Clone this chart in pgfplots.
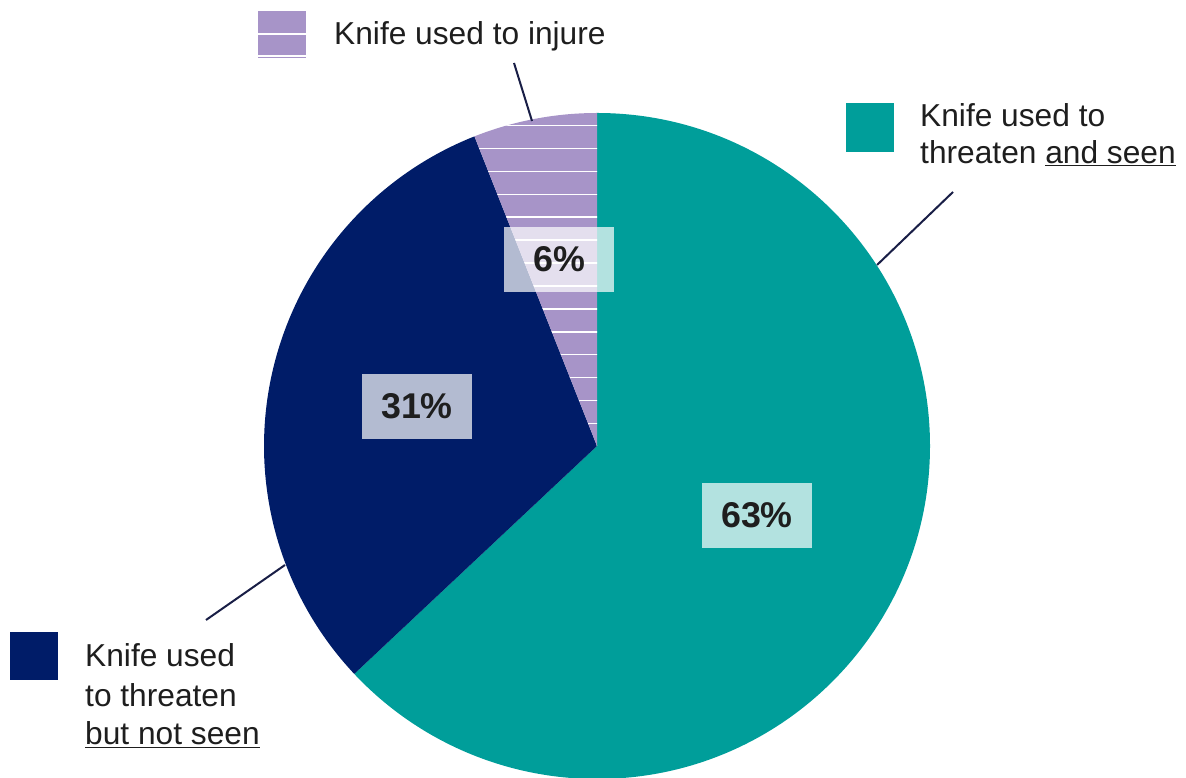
\documentclass[border=0pt]{standalone}
\usepackage{pgfplots}
\pgfplotsset{compat=1.18}
\usepackage{fontspec}
\setmainfont{Liberation Sans}

\definecolor{kTeal}{RGB}{0,158,154}
\definecolor{kNavy}{RGB}{0,28,104}
\definecolor{kPurple}{RGB}{167,148,200}
\definecolor{kText}{RGB}{30,30,30}
\definecolor{kLead}{RGB}{25,30,70}

% === Data (percent) ===
\def\valSeen{63}   % knife used to threaten and seen
\def\valNot{31}    % knife used to threaten but not seen
\def\valInj{6}     % knife used to injure

% pie in pixel units: centre and radius
\def\cx{597}\def\cy{332}\def\R{333}

% slice angles, clockwise from 12 o'clock
\pgfmathsetmacro{\aA}{90}
\pgfmathsetmacro{\aB}{\aA-3.6*\valSeen}
\pgfmathsetmacro{\aC}{\aB-3.6*\valNot}
\pgfmathsetmacro{\aD}{\aC-3.6*\valInj}

\newcommand{\leg}{\fontsize{31.7}{38}\selectfont}
\newcommand{\pct}{\fontsize{35.8}{40}\selectfont\bfseries}

\begin{document}
\begin{tikzpicture}
\begin{axis}[
  x=1pt, y=1pt,
  xmin=0, xmax=1186,
  ymin=0, ymax=778,
  hide axis,
  clip=false,
]
\coordinate (bl) at (axis cs:0,0);
\coordinate (tr) at (axis cs:1186,778);

% === Slices ===
\fill[kTeal] (axis cs:\cx,\cy) -- (axis cs:{\cx+\R*cos(\aA)},{\cy+\R*sin(\aA)})
  arc[start angle=\aA, end angle=\aB, radius=\R] -- cycle;
\fill[kNavy] (axis cs:\cx,\cy) -- (axis cs:{\cx+\R*cos(\aB)},{\cy+\R*sin(\aB)})
  arc[start angle=\aB, end angle=\aC, radius=\R] -- cycle;
\fill[kPurple] (axis cs:\cx,\cy) -- (axis cs:{\cx+\R*cos(\aC)},{\cy+\R*sin(\aC)})
  arc[start angle=\aC, end angle=\aD, radius=\R] -- cycle;

% stripes on the injure slice
\begin{scope}
\clip (axis cs:\cx,\cy) -- (axis cs:{\cx+\R*cos(\aC)},{\cy+\R*sin(\aC)})
  arc[start angle=\aC, end angle=\aD, radius=\R] -- cycle;
\pgfplotsinvokeforeach{0,...,14}{
  \draw[white, line width=1.6pt] (axis cs:440,{652.3-22.9*#1}) -- (axis cs:610,{652.3-22.9*#1});
}
\end{scope}

% === Leader lines ===
\draw[kLead, line width=2pt] (axis cs:514,715) -- (axis cs:532,657);
\draw[kLead, line width=2pt] (axis cs:953,586) -- (axis cs:877,513);
\draw[kLead, line width=2pt] (axis cs:206,158) -- (axis cs:285,213);

% === Percent boxes ===
\tikzset{pbox/.style={fill=white, fill opacity=0.7, text opacity=1, text=kText,
  minimum width=110pt, minimum height=65pt, inner sep=0pt, font=\pct}}
\node[pbox] at (axis cs:559,518.5) {\valInj\%};
\node[pbox] at (axis cs:417,371.5) {\valNot\%};
\node[pbox] at (axis cs:757,262.5) {\valSeen\%};

% === Legend squares ===
\fill[kPurple] (axis cs:258,720) rectangle (axis cs:306,767);
\draw[white, line width=1.6pt] (axis cs:258,744) -- (axis cs:306,744);
\draw[white, line width=1.2pt] (axis cs:258,722) -- (axis cs:306,722);
\fill[kTeal] (axis cs:846,626) rectangle (axis cs:894,675);
\fill[kNavy] (axis cs:10,98) rectangle (axis cs:58,146);

% === Legend texts ===
\tikzset{ltxt/.style={anchor=base west, inner sep=0pt, text=kText, font=\leg}}
\node[ltxt] at (axis cs:334,733) {Knife used to injure};
\node[ltxt] at (axis cs:920,651.3) {Knife used to};
\node[ltxt] at (axis cs:920,614) {threaten \underline{and seen}};
\node[ltxt] at (axis cs:85,111.3) {Knife used};
\node[ltxt] at (axis cs:85,71.3) {to threaten};
\node[ltxt] at (axis cs:85,33) {\underline{but not seen}};
\end{axis}
\pgfresetboundingbox
\path[use as bounding box] (bl) rectangle (tr);
\end{tikzpicture}
\end{document}
